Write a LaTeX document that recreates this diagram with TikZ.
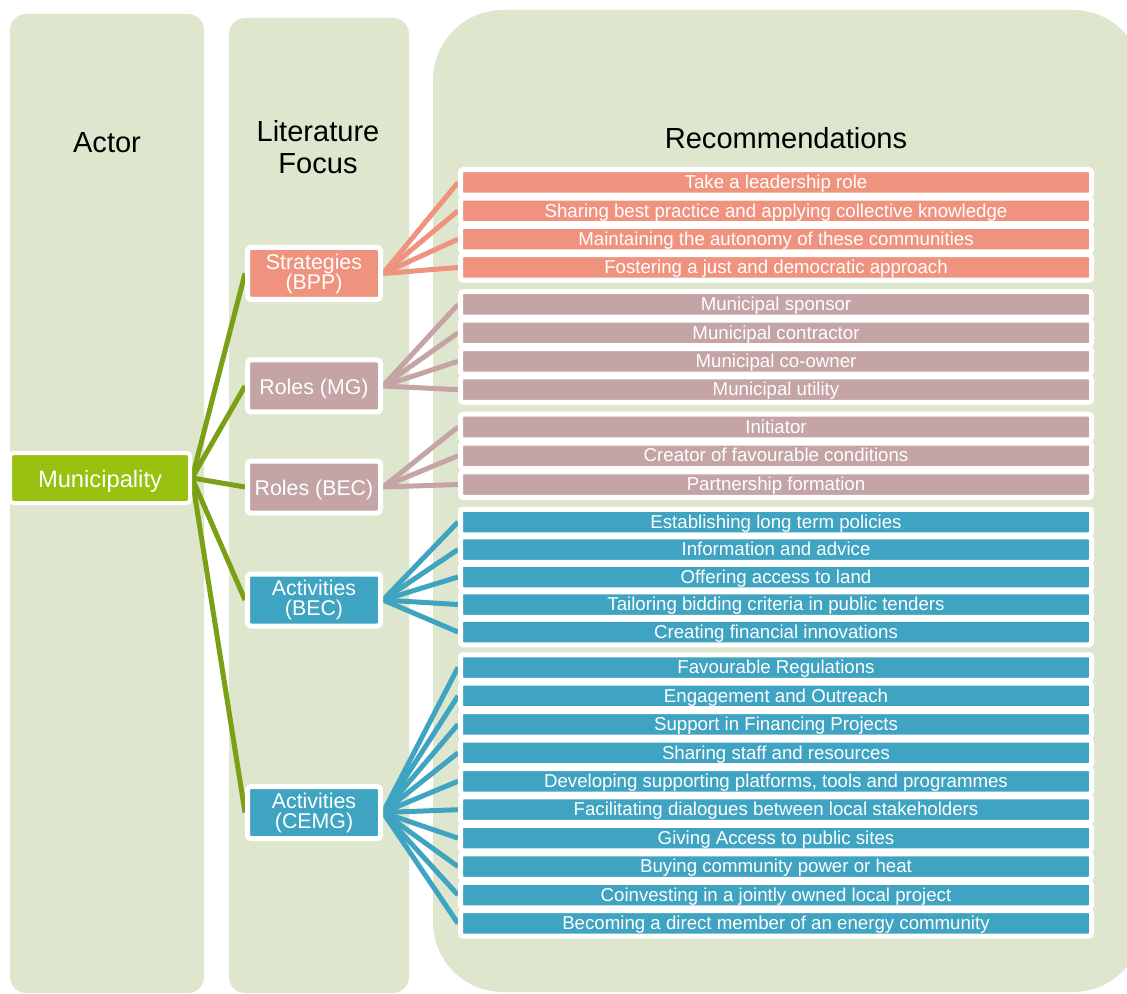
\documentclass[tikz,border=0pt]{standalone}
\usepackage{fontspec}
\setmainfont{Liberation Sans}

\definecolor{panelgreen}{HTML}{DEE7CD}
\definecolor{munifill}{HTML}{97C00F}
\definecolor{muniline}{HTML}{7AA016}
\definecolor{salmon}{HTML}{F0937E}
\definecolor{mauve}{HTML}{C4A4A5}
\definecolor{teal}{HTML}{3FA3C2}

\pgfdeclarelayer{panels}
\pgfdeclarelayer{links}
\pgfsetlayers{panels,links,main}

\begin{document}
\begin{tikzpicture}[x=0.75pt,y=-0.75pt,
  panel/.style={fill=panelgreen},
  recbar/.style={fill=#1, draw=white, line width=3.75pt, rounded corners=2pt,
    minimum width=473.25pt, minimum height=19.125pt, inner sep=0pt,
    text=white, font=\fontsize{14}{16}\selectfont,
    text height=9.3pt, text depth=0pt},
  litbox/.style={fill=#1, draw=white, line width=3.75pt, rounded corners=2.5pt,
    minimum width=99.75pt, minimum height=39pt, inner sep=0pt,
    text=white, align=center, font=\fontsize{16}{15}\selectfont},
  oneline/.style={text height=13pt, text depth=0pt},
  munibox/.style={fill=munifill, draw=white, line width=3pt, rounded corners=2.5pt,
    minimum width=135pt, minimum height=37.5pt, inner sep=0pt,
    text=white, font=\fontsize{17.8}{20}\selectfont,
    text height=13.5pt, text depth=0pt},
  link/.style={draw=#1, line width=3.75pt},
  header/.style={font=\fontsize{21.8}{24}\selectfont, align=center, inner sep=0pt}
]
\useasboundingbox (0,0) rectangle (1127,994);

% background columns
\begin{pgfonlayer}{panels}
  \begin{scope}
    \clip (0,0) rectangle (1127,994);
    \fill[panel, rounded corners=12pt] (10,14) rectangle (204,993);
    \fill[panel, rounded corners=12pt] (229,18) rectangle (409,993);
    \fill[panel, rounded corners=52.5pt] (433,10) rectangle (1143,992);
  \end{scope}
\end{pgfonlayer}

% column headings
\node[header] (actor) at (107,143) {Actor};
\node[header] (lit) at (318,147) {Literature\\Focus};
\node[header] (rec) at (786,138) {Recommendations};

% actor and literature focus
\node[munibox] (muni) at (100,478) {Municipality};
\node[litbox=salmon] (bpp) at (314,273.5) {Strategies\\(BPP)};
\node[litbox=mauve, oneline] (mg) at (314,386) {Roles (MG)};
\node[litbox=mauve, oneline] (becr) at (314,487) {Roles (BEC)};
\node[litbox=teal] (beca) at (314,600) {Activities\\(BEC)};
\node[litbox=teal] (cemg) at (314,812.5) {Activities\\(CEMG)};

% recommendation bars
\foreach \t [count=\i] in {Take a leadership role,
    Sharing best practice and applying collective knowledge,
    Maintaining the autonomy of these communities,
    Fostering a just and democratic approach}
  \node[recbar=salmon] (a\i) at (776,{182.5+28.33*(\i-1)}) {\t};

\foreach \t [count=\i] in {Municipal sponsor, Municipal contractor,
    Municipal co-owner, Municipal utility}
  \node[recbar=mauve] (b\i) at (776,{304.5+28.4*(\i-1)}) {\t};

\foreach \t [count=\i] in {Initiator, Creator of favourable conditions,
    Partnership formation}
  \node[recbar=mauve] (c\i) at (776,{427+28.75*(\i-1)}) {\t};

\foreach \t [count=\i] in {Establishing long term policies,
    Information and advice, Offering access to land,
    Tailoring bidding criteria in public tenders,
    Creating financial innovations}
  \node[recbar=teal] (d\i) at (776,{522+27.5*(\i-1)}) {\t};

\foreach \t [count=\i] in {Favourable Regulations, Engagement and Outreach,
    Support in Financing Projects, Sharing staff and resources,
    {Developing supporting platforms, tools and programmes},
    Facilitating dialogues between local stakeholders,
    Giving Access to public sites, Buying community power or heat,
    Coinvesting in a jointly owned local project,
    Becoming a direct member of an energy community}
  \node[recbar=teal] (e\i) at (776,{667.5+28.44*(\i-1)}) {\t};

% connectors
\begin{pgfonlayer}{links}
  \foreach \n in {bpp,mg,becr,beca,cemg}
    \draw[link=muniline] (muni.east) -- (\n.west);
  \foreach \i in {1,...,4}
    \draw[link=salmon] (bpp.east) -- (a\i.west);
  \foreach \i in {1,...,4}
    \draw[link=mauve] (mg.east) -- (b\i.west);
  \foreach \i in {1,...,3}
    \draw[link=mauve] (becr.east) -- (c\i.west);
  \foreach \i in {1,...,5}
    \draw[link=teal] (beca.east) -- (d\i.west);
  \foreach \i in {1,...,10}
    \draw[link=teal] (cemg.east) -- (e\i.west);
\end{pgfonlayer}
\end{tikzpicture}
\end{document}
